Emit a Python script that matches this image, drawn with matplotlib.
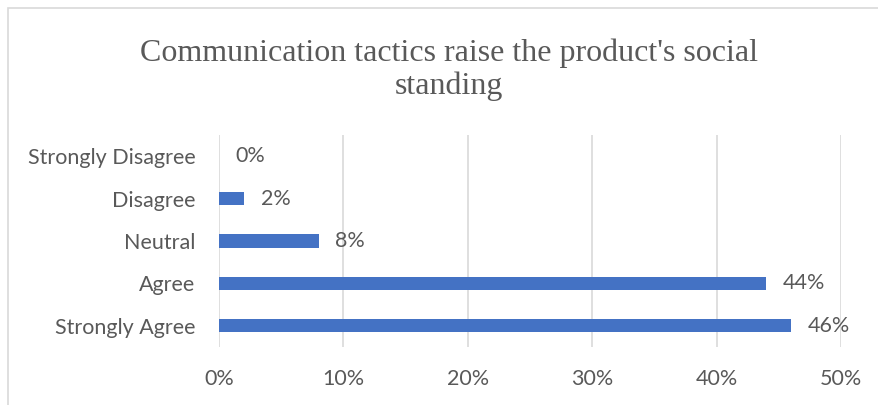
import matplotlib.pyplot as plt
from matplotlib.patches import Rectangle

categories = ["Strongly Agree", "Agree", "Neutral", "Disagree", "Strongly Disagree"]
values = [46, 44, 8, 2, 0]
xticks = [0, 10, 20, 30, 40, 50]

bar_color = "#4472C4"
text_color = "#595959"
grid_color = "#D9D9D9"
label_font = ["Lato", "DejaVu Sans"]
fs = 15.5

fig = plt.figure(figsize=(8.79, 4.05), dpi=100)
# chart frame, runs off the right and bottom edge
fig.patches.append(Rectangle((8 / 879, -0.05), 1.0, 1 - 8 / 405 + 0.05,
                             transform=fig.transFigure, fill=False,
                             edgecolor="#D9D9D9", linewidth=1.2))

ax = fig.add_axes([219 / 879, 1 - 347 / 405, (841 - 219) / 879, (347 - 135) / 405])
ypos = range(len(categories))
ax.barh(ypos, values, height=0.31, color=bar_color, zorder=3)
ax.set_ylim(-0.5, len(categories) - 0.5)
ax.set_xlim(0, 50)
ax.set_xticks(xticks)
ax.set_xticklabels([f"{t}%" for t in xticks], family=label_font,
                   fontsize=fs, color=text_color)
ax.set_yticks(list(ypos))
ax.set_yticklabels(categories, family=label_font, fontsize=fs, color=text_color)
ax.tick_params(length=0)
ax.tick_params(axis="y", pad=17)
ax.tick_params(axis="x", pad=16)
ax.grid(axis="x", color=grid_color, linewidth=1.2, zorder=0)
for s in ax.spines.values():
    s.set_visible(False)

for y, v in zip(ypos, values):
    ax.annotate(f"{v}%", (v, y), xytext=(12, 0), textcoords="offset points",
                va="center", ha="left", family=label_font, fontsize=fs,
                color=text_color)

fig.text(449 / 879, 1 - 70 / 405,
         "Communication tactics raise the product's social\nstanding",
         ha="center", va="center", family=["Liberation Serif"], fontsize=23,
         color=text_color, linespacing=1.15)

fig.savefig("out.png", dpi=100)
